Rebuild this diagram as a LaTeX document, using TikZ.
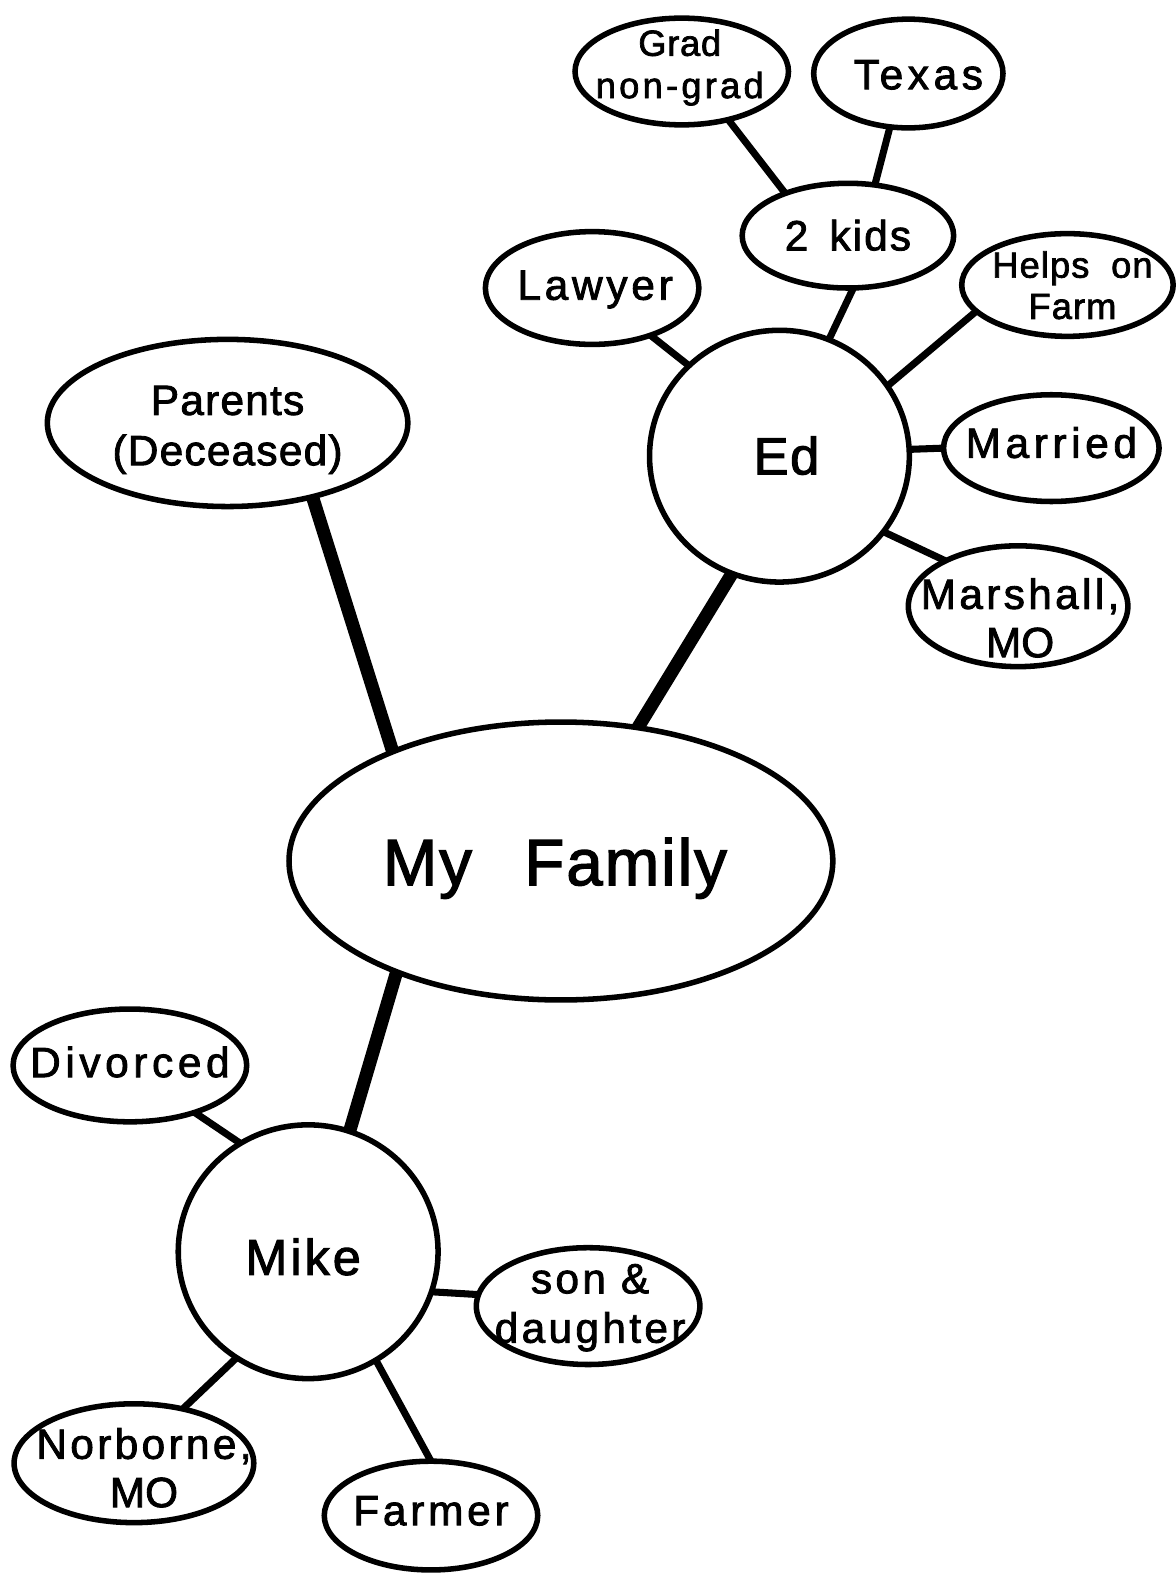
\documentclass[tikz,border=0pt]{standalone}
\usepackage{fontspec}
\setmainfont{Liberation Sans}
\usetikzlibrary{shapes.geometric}
\newcommand\myfs[3]{\fontsize{#1}{#2}\selectfont\addfontfeature{LetterSpace=#3,FakeBold=2}}
\newsavebox\zbbox
% \zb{dx}{dy}{text}: text centred on the node centre, moved by dx right and dy down
\newcommand\zb[3]{\sbox\zbbox{\begin{tabular}{@{}c@{}}#3\end{tabular}}\smash{\makebox[0pt]{\hspace*{#1}\hspace*{#1}\makebox[0pt]{\raisebox{\dimexpr(\dp\zbbox-\ht\zbbox)/2-#2\relax}{\usebox\zbbox}}}}}
\begin{document}
\begin{tikzpicture}[x=1pt,y=-1pt,
  bub/.style={draw, ellipse, line width=5.5pt, inner sep=0pt, outer sep=0pt},
  link/.style={line width=7pt},
  trunk/.style={line width=13pt},
  lab/.style={font=\myfs{42}{48}{9}}]
\useasboundingbox (0,0) rectangle (1167,1568);
% central
\node[bub, minimum width=540, minimum height=276, font=\myfs{65}{80}{3}] (fam) at (557,855) {\zb{-6pt}{8pt}{My\hspace{0.8em}Family}};
\node[bub, minimum width=358, minimum height=166, font=\myfs{42}{50}{3}] (par) at (226,420) {\zb{0pt}{7pt}{Parents\\(Deceased)}};
% Ed branch
\node[bub, minimum width=258, minimum height=250, font=\myfs{52}{60}{3}] (ed) at (774,453) {\zb{7pt}{6pt}{Ed}};
\node[bub, lab, minimum width=212, minimum height=112] (law) at (588,286) {\zb{3pt}{2pt}{Lawyer}};
\node[bub, minimum width=210, minimum height=104, font=\myfs{42}{48}{5}] (kids) at (842,234) {\zb{0pt}{5pt}{2\hspace{0.5em}kids}};
\node[bub, minimum width=212, minimum height=106, font=\myfs{36}{42}{2}] (grad) at (677,71) {\zb{-2pt}{-3pt}{Grad\\\addfontfeature{LetterSpace=9}non-grad}};
\node[bub, lab, minimum width=188, minimum height=108, font=\myfs{42}{48}{11}] (tex) at (902,73) {\zb{10pt}{6pt}{Texas}};
\node[bub, minimum width=210, minimum height=102, font=\myfs{36}{41}{3}] (help) at (1060,283) {\zb{5pt}{5pt}{Helps\hspace{0.6em}on\\Farm}};
\node[bub, lab, minimum width=214, minimum height=106, font=\myfs{42}{48}{11}] (mar) at (1044,445) {\zb{0pt}{0pt}{Married}};
\node[bub, lab, minimum width=218, minimum height=120, font=\myfs{42}{48}{8}] (marsh) at (1011,602) {\zb{2pt}{17pt}{Marshall,\\\addfontfeature{LetterSpace=0}MO}};
% Mike branch
\node[bub, minimum width=258, minimum height=252, font=\myfs{50}{60}{6}] (mike) at (306,1243) {\zb{-5pt}{11pt}{Mike}};
\node[bub, lab, minimum width=232, minimum height=112, font=\myfs{42}{48}{11}] (div) at (129,1058) {\zb{0pt}{2pt}{Divorced}};
\node[bub, lab, minimum width=222, minimum height=116, font=\myfs{42}{49}{8}] (son) at (584,1297) {\zb{2pt}{2pt}{son \&\\daughter}};
\node[bub, lab, minimum width=238, minimum height=118, font=\myfs{42}{48}{8}] (nor) at (133,1453) {\zb{10pt}{10pt}{Norborne,\\\addfontfeature{LetterSpace=0}MO}};
\node[bub, lab, minimum width=212, minimum height=108] (farm) at (428,1505) {\zb{0pt}{0pt}{Farmer}};
% trunk connectors
\draw[trunk] (par.-41) -- (fam.147);
\draw[trunk] (ed.-112) -- (fam.60);
\draw[trunk] (fam.-146) -- (mike.71);
% Ed links
\draw[link] (law.-39) -- (ed.135);
\draw[link] (kids.-84) -- (ed.67);
\draw[link] (grad.-46) -- (kids.146);
\draw[link] (tex.-109) -- (kids.62);
\draw[link] (help.196) -- (ed.33);
\draw[link] (mar.180) -- (ed.3);
\draw[link] (marsh.148) -- (ed.-36);
% Mike links
\draw[link] (div.-36) -- (mike.122);
\draw[link] (son.174) -- (mike.-18);
\draw[link] (nor.48) -- (mike.-124);
\draw[link] (farm.90) -- (mike.-58);
\end{tikzpicture}
\end{document}
